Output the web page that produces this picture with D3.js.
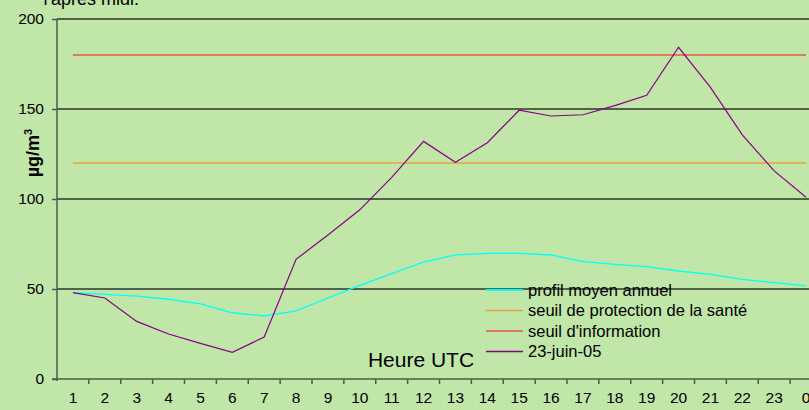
<!DOCTYPE html>
<html lang="fr">
<head>
<meta charset="UTF-8">
<title>Ozone</title>
<script src="https://cdn.jsdelivr.net/npm/d3@7"></script>
<style>
    body { margin: 0; background: #c0e6a8; }
    svg { display: block; font-family: "Liberation Sans", Arial, sans-serif; }
    .axis text { font-size: 15.5px; fill: #000; }
    .axis path, .axis line { stroke: #4d5a4d; stroke-width: 1.5px; }
</style>
</head>
<body>
<div id="chart"></div>
<script>
    // heures
    var hours = ["1", "2", "3", "4", "5", "6", "7", "8", "9", "10", "11", "12",
                 "13", "14", "15", "16", "17", "18", "19", "20", "21", "22", "23", "0"];
    // profil moyen annuel
    var profil = [48, 47, 46, 44.3, 41.7, 36.8, 35, 37.8, 45, 52, 58.5, 65,
                  69, 69.8, 69.8, 68.9, 65.2, 63.7, 62.4, 60, 58.1, 55.4, 53.5, 51.7];
    // 23-juin-05
    var juin23 = [48, 45, 32, 25, 19.8, 14.8, 23.3, 66.5, 80, 94, 112, 132,
                  120.4, 131.3, 149.3, 146.1, 146.8, 151.9, 157.6, 184.3, 162, 135.6, 115.6, 101];
    var seuilSante = 120;
    var seuilInfo = 180;
    var yTicks = [0, 50, 100, 150, 200];
    var legendNames = ["profil moyen annuel", "seuil de protection de la santé", "seuil d'information", "23-juin-05"];
    var legendColors = ["#00ffff", "#e8a040", "#e85a3a", "#880088"];

    var width = 809, height = 410;
    var svg = d3.select("#chart").append("svg")
        .attr("width", width).attr("height", height);

    var x = d3.scaleBand().domain(hours).range([57, 822]);
    var y = d3.scaleLinear().domain([0, 200]).range([379, 19]);
    var cx = function (i) { return x(hours[i]) + x.bandwidth() / 2; };

    // titre coupé en haut (comme dans l'original)
    svg.append("text")
        .attr("x", 139).attr("y", 5)
        .attr("text-anchor", "end")
        .style("font-size", "18px")
        .text("l'après midi.");

    // lignes horizontales
    svg.append("g").selectAll("line")
        .data(yTicks.slice(1))
        .enter().append("line")
        .attr("x1", 57).attr("x2", 822)
        .attr("y1", function (d) { return y(d); })
        .attr("y2", function (d) { return y(d); })
        .style("stroke", "#2e352e").style("stroke-width", 1.5);

    // axes
    svg.append("g").attr("class", "axis")
        .attr("transform", "translate(57,0)")
        .call(d3.axisLeft(y).tickValues(yTicks).tickSize(5).tickPadding(8))
        .call(function (g) { g.select(".domain").attr("d", "M0,19V381"); });

    var xAxis = svg.append("g").attr("class", "axis")
        .attr("transform", "translate(0,379)");
    xAxis.append("line").attr("x1", 52).attr("x2", 822).attr("y1", 0).attr("y2", 0);
    xAxis.selectAll(".tick")
        .data(hours)
        .enter().append("line")
        .attr("x1", function (d) { return x(d) + x.bandwidth(); })
        .attr("x2", function (d) { return x(d) + x.bandwidth(); })
        .attr("y1", 0).attr("y2", 5);
    xAxis.selectAll("text")
        .data(hours)
        .enter().append("text")
        .attr("x", function (d) { return x(d) + x.bandwidth() / 2; })
        .attr("y", 24)
        .attr("text-anchor", "middle")
        .text(function (d) { return d; });

    // titre axe y
    var yTitle = svg.append("text")
        .attr("transform", "translate(39,153) rotate(-90)")
        .attr("text-anchor", "middle")
        .style("font-size", "18px").style("font-weight", "bold");
    yTitle.append("tspan").text("µg/m");
    yTitle.append("tspan").attr("dy", -7).style("font-size", "11px").text("3");

    // titre axe x
    svg.append("text")
        .attr("x", 421).attr("y", 367)
        .attr("text-anchor", "middle")
        .style("font-size", "21px")
        .text("Heure UTC");

    var line = d3.line()
        .x(function (d, i) { return cx(i); })
        .y(function (d) { return y(d); });

    // seuils
    [[seuilInfo, legendColors[2]], [seuilSante, legendColors[1]]].forEach(function (s) {
        svg.append("line")
            .attr("x1", cx(0)).attr("x2", cx(hours.length - 1))
            .attr("y1", y(s[0])).attr("y2", y(s[0]))
            .style("stroke", s[1]).style("stroke-width", 1.5);
    });

    svg.append("path").datum(profil)
        .attr("d", line)
        .style("fill", "none").style("stroke", legendColors[0]).style("stroke-width", 1.3);

    svg.append("path").datum(juin23)
        .attr("d", line)
        .style("fill", "none").style("stroke", legendColors[3]).style("stroke-width", 1.2);

    // légende
    var legend = svg.append("g").selectAll("g")
        .data(legendNames)
        .enter().append("g")
        .attr("transform", function (d, i) { return "translate(486," + (290 + i * 20.5) + ")"; });
    legend.append("line")
        .attr("x1", 0).attr("x2", 37)
        .style("stroke", function (d, i) { return legendColors[i]; })
        .style("stroke-width", function (d, i) { return i === 0 ? 2 : 1.5; });
    legend.append("text")
        .attr("x", 42).attr("dy", "0.35em")
        .style("font-size", "16.5px")
        .text(function (d) { return d; });
</script>
</body>
</html>
